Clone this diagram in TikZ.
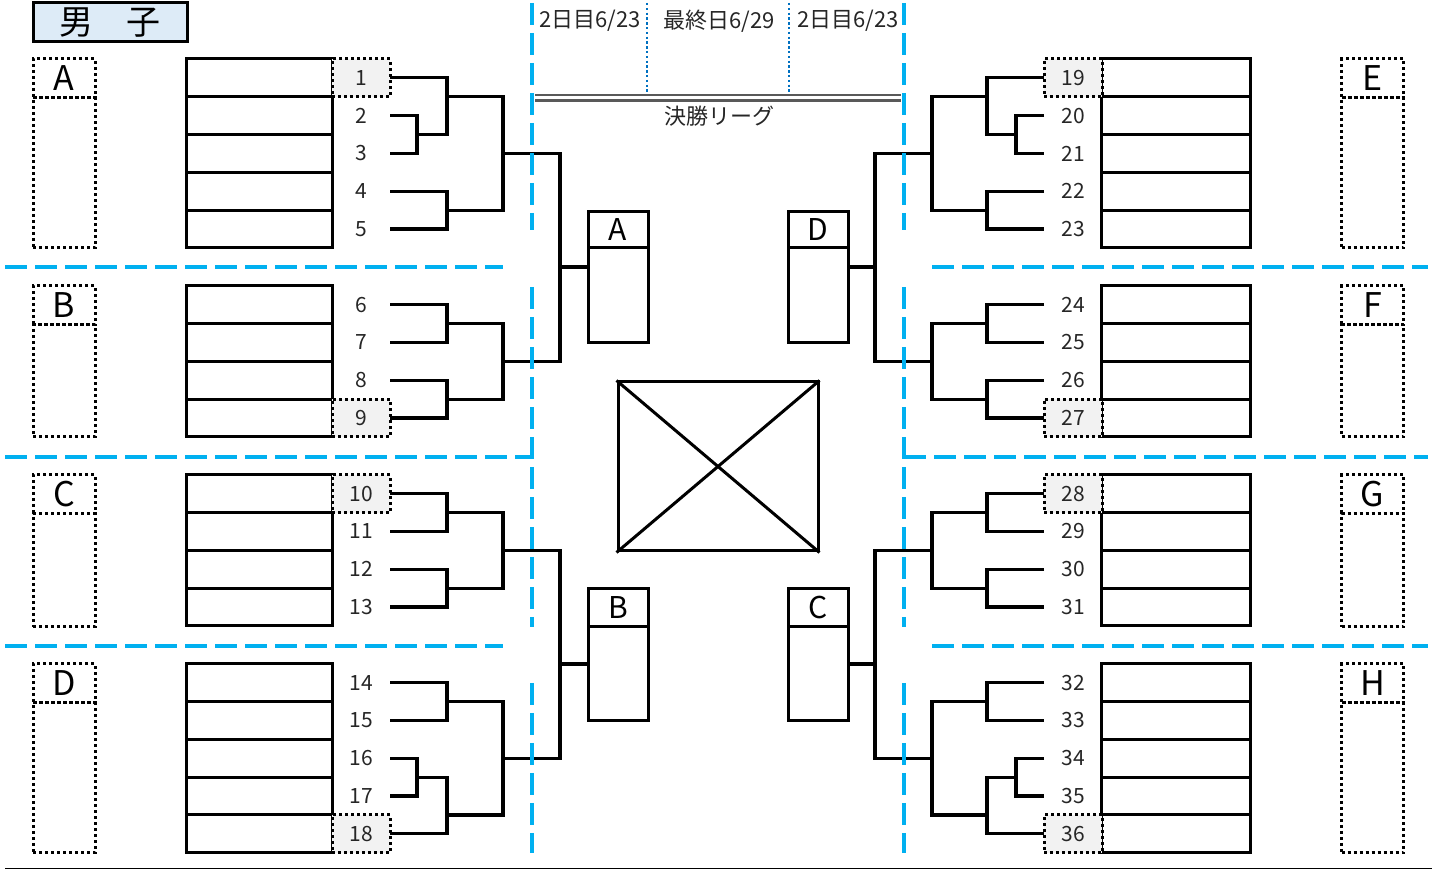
\documentclass[tikz,border=0pt]{standalone}
\usepackage{fontspec}
\setmainfont{Noto Sans CJK JP}
\usetikzlibrary{
    positioning,
    calc
}
\definecolor{sepblue}{RGB}{0, 176, 240}
\definecolor{dayblue}{RGB}{0, 112, 192}
\definecolor{titlefill}{RGB}{221, 235, 247}
\definecolor{seedgray}{RGB}{242, 242, 242}
\definecolor{leaguegray}{RGB}{89, 89, 89}

\begin{document}
\begin{tikzpicture}[
    x=0.5pt, y=-0.5pt,
    % Entry numbers
    num/.style={
        minimum width=29pt,
        minimum height=18.9pt,
        inner sep=0pt,
        outer sep=0pt,
        text=black!85,
        font=\fontsize{10.5pt}{12pt}\selectfont
    },
    % Seeded entry (grey, dotted)
    seed/.style={
        num,
        draw=black,
        fill=seedgray,
        line width=1.5pt,
        dash pattern=on 1.5pt off 1.5pt
    },
    % Group letter box
    grphd/.style={
        draw=black,
        line width=1.5pt,
        dash pattern=on 1.5pt off 1.5pt,
        minimum width=31pt,
        minimum height=19.5pt,
        inner sep=0pt,
        outer sep=0pt,
        font=\fontsize{17pt}{19pt}\selectfont
    },
    grpbody/.style={
        grphd,
        minimum height=#1
    },
    % Final league boxes
    cbox/.style={
        draw=black,
        line width=1.5pt,
        minimum width=30pt,
        minimum height=#1,
        inner sep=0pt,
        outer sep=0pt,
        font=\fontsize{15pt}{17pt}\selectfont
    },
    % Entry cells
    cell/.style={
        draw=black,
        line width=1.5pt
    },
    % Bracket lines
    bk/.style={
        line width=1.6pt
    },
    % Blue dashed separators
    sep/.style={
        draw=sepblue,
        line width=2pt,
        dash pattern=on 11pt off 4pt
    },
    daysep/.style={
        draw=dayblue,
        line width=1.3pt,
        dash pattern=on 1.2pt off 1.2pt
    },
    daylabel/.style={
        text=black!85,
        font=\fontsize{11pt}{13pt}\selectfont
    }
]

\useasboundingbox (0,0) rectangle (1437,870);

% Title
\node[draw=black, fill=titlefill, line width=1.5pt, minimum width=77pt,
      minimum height=19.5pt, inner sep=0pt,
      font=\fontsize{17pt}{19pt}\selectfont] (ttl) at (110,22.5) {男　子};

% ============================================
% DAYS AND FINAL LEAGUE
% ============================================

\node[daylabel] (day1) at (590,21) {2日目6/23};
\node[daylabel] (final) at (719,21) {最終日6/29};
\node[daylabel] (day2) at (848,21) {2日目6/23};
\node[daylabel] (league) at (719,116) {決勝リーグ};

\draw[daysep] (647,3) -- (647,93);
\draw[daysep] (789,3) -- (789,93);

\draw[leaguegray, line width=1.4pt] (535,95) -- (901,95);
\draw[leaguegray, line width=1.4pt] (535,100.5) -- (901,100.5);

% ============================================
% GROUP BOXES
% ============================================

\foreach \g/\y/\h in {A/78.5/75pt, B/305.5/56pt, C/494.5/56.5pt, D/683.5/75pt} {
    \node[grphd] (g\g) at (64,\y) {\g};
    \node[grpbody=\h, below=0pt of g\g] (b\g) {};
}
\foreach \g/\y/\h in {E/78.5/75pt, F/305.5/56pt, G/494.5/56.5pt, H/683.5/75pt} {
    \node[grphd] (g\g) at (1372.5,\y) {\g};
    \node[grpbody=\h, below=0pt of g\g] (b\g) {};
}

% Entry cells
\foreach \k in {0,...,4,6,7,8,9,11,12,13,14,16,17,...,20} {
    \draw[cell] (186,{59+37.8*\k}) rectangle +(146,37.8);
    \draw[cell] (1101,{59+37.8*\k}) rectangle +(149,37.8);
}

% Entry numbers
\foreach \n/\k/\s in {1/0/seed, 2/1/num, 3/2/num, 4/3/num, 5/4/num,
                      6/6/num, 7/7/num, 8/8/num, 9/9/seed,
                      10/11/seed, 11/12/num, 12/13/num, 13/14/num,
                      14/16/num, 15/17/num, 16/18/num, 17/19/num, 18/20/seed} {
    \node[\s] (n\n) at (361,{77.9+37.8*\k}) {\n};
}
\foreach \n/\k/\s in {19/0/seed, 20/1/num, 21/2/num, 22/3/num, 23/4/num,
                      24/6/num, 25/7/num, 26/8/num, 27/9/seed,
                      28/11/seed, 29/12/num, 30/13/num, 31/14/num,
                      32/16/num, 33/17/num, 34/18/num, 35/19/num, 36/20/seed} {
    \node[\s] (n\n) at (1073,{77.9+37.8*\k}) {\n};
}

% ============================================
% FINAL LEAGUE BOXES
% ============================================

\node[cbox=18pt] (hdA) at (618,230) {A};
\node[cbox=47.5pt, below=0pt of hdA] (bdA) {};
\node[cbox=18pt] (hdD) at (818,230) {D};
\node[cbox=47.5pt, below=0pt of hdD] (bdD) {};
\node[cbox=19pt] (hdB) at (618,608) {B};
\node[cbox=47pt, below=0pt of hdB] (bdB) {};
\node[cbox=19pt] (hdC) at (818,608) {C};
\node[cbox=47pt, below=0pt of hdC] (bdC) {};

\node[draw=black, line width=1.5pt, minimum width=100pt, minimum height=84.5pt,
      inner sep=0pt] (xbox) at (718,466.5) {};
\draw[line width=1.5pt] (xbox.north west) -- (xbox.south east);
\draw[line width=1.5pt] (xbox.south west) -- (xbox.north east);

% ============================================
% LEFT BRACKETS
% ============================================

\coordinate (m23) at (417,134.6);
\coordinate (m13) at (447,96.8);
\coordinate (m45) at (447,210.2);
\coordinate (jA) at (503,153.5);
\coordinate (m67) at (447,323.6);
\coordinate (m89) at (447,399.2);
\coordinate (jB) at (503,361.4);
\coordinate (sAB) at (560,267);
\coordinate (m1011) at (447,512.6);
\coordinate (m1213) at (447,588.2);
\coordinate (jC) at (503,550.4);
\coordinate (m1415) at (447,701.6);
\coordinate (m1617) at (417,777.2);
\coordinate (m1618) at (447,815);
\coordinate (jD) at (503,758.3);
\coordinate (sCD) at (560,664);

\draw[bk] (n2.east) -| (m23) |- (n3.east);
\draw[bk] (n1.east) -| (m13) |- (m23);
\draw[bk] (n4.east) -| (m45) |- (n5.east);
\draw[bk] (m13) -| (jA) |- (m45);
\draw[bk] (n6.east) -| (m67) |- (n7.east);
\draw[bk] (n8.east) -| (m89) |- (n9.east);
\draw[bk] (m67) -| (jB) |- (m89);
\draw[bk] (jA) -| (sAB) |- (jB);
\draw[bk] (sAB) -- (sAB -| bdA.west);

\draw[bk] (n10.east) -| (m1011) |- (n11.east);
\draw[bk] (n12.east) -| (m1213) |- (n13.east);
\draw[bk] (m1011) -| (jC) |- (m1213);
\draw[bk] (n14.east) -| (m1415) |- (n15.east);
\draw[bk] (n16.east) -| (m1617) |- (n17.east);
\draw[bk] (m1617) -| (m1618) |- (n18.east);
\draw[bk] (m1415) -| (jD) |- (m1618);
\draw[bk] (jC) -| (sCD) |- (jD);
\draw[bk] (sCD) -- (sCD -| bdB.west);

% ============================================
% RIGHT BRACKETS
% ============================================

\coordinate (m2021) at (1016,134.6);
\coordinate (m1921) at (987,96.8);
\coordinate (m2223) at (987,210.2);
\coordinate (jE) at (932,153.5);
\coordinate (m2425) at (987,323.6);
\coordinate (m2627) at (987,399.2);
\coordinate (jF) at (932,361.4);
\coordinate (sEF) at (875,267);
\coordinate (m2829) at (987,512.6);
\coordinate (m3031) at (987,588.2);
\coordinate (jG) at (932,550.4);
\coordinate (m3233) at (987,701.6);
\coordinate (m3435) at (1016,777.2);
\coordinate (m3436) at (987,815);
\coordinate (jH) at (932,758.3);
\coordinate (sGH) at (875,664);

\draw[bk] (n20.west) -| (m2021) |- (n21.west);
\draw[bk] (n19.west) -| (m1921) |- (m2021);
\draw[bk] (n22.west) -| (m2223) |- (n23.west);
\draw[bk] (m1921) -| (jE) |- (m2223);
\draw[bk] (n24.west) -| (m2425) |- (n25.west);
\draw[bk] (n26.west) -| (m2627) |- (n27.west);
\draw[bk] (m2425) -| (jF) |- (m2627);
\draw[bk] (jE) -| (sEF) |- (jF);
\draw[bk] (sEF) -- (sEF -| bdD.east);

\draw[bk] (n28.west) -| (m2829) |- (n29.west);
\draw[bk] (n30.west) -| (m3031) |- (n31.west);
\draw[bk] (m2829) -| (jG) |- (m3031);
\draw[bk] (n32.west) -| (m3233) |- (n33.west);
\draw[bk] (n34.west) -| (m3435) |- (n35.west);
\draw[bk] (m3435) -| (m3436) |- (n36.west);
\draw[bk] (m3233) -| (jH) |- (m3436);
\draw[bk] (jG) -| (sGH) |- (jH);
\draw[bk] (sGH) -- (sGH -| bdC.east);

% ============================================
% SEPARATORS
% ============================================

% Left
\draw[sep] (5,267.5) -- (503,267.5);
\draw[sep] (5,457) -- (532,457);
\draw[sep] (5,646) -- (503,646);
\draw[sep] (532,3) -- (532,230);
\draw[sep] (532,287) -- (532,627);
\draw[sep] (532,683) -- (532,853);

% Right
\draw[sep] (932,267.5) -- (1428,267.5);
\draw[sep] (904,457) -- (1428,457);
\draw[sep] (932,646) -- (1428,646);
\draw[sep] (904,3) -- (904,230);
\draw[sep] (904,287) -- (904,627);
\draw[sep] (904,683) -- (904,853);

% Bottom rule
\draw[line width=0.7pt] (5,868.5) -- (1432,868.5);

\end{tikzpicture}
\end{document}
